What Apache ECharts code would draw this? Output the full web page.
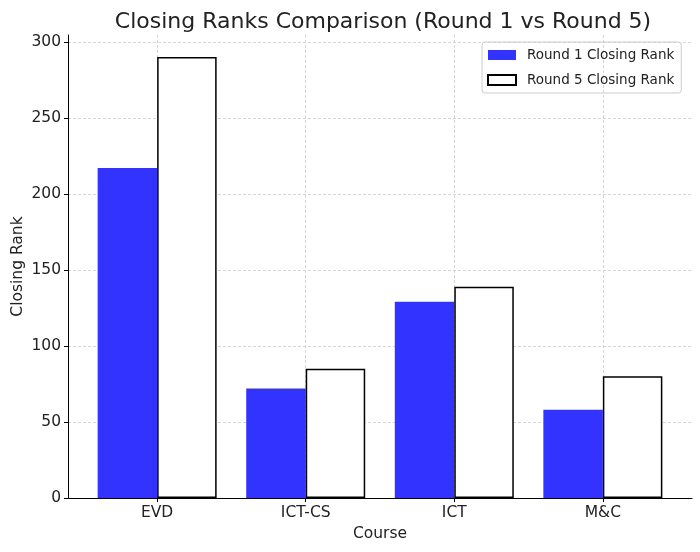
<!DOCTYPE html>
<html>
<head>
<meta charset="utf-8">
<script src="https://cdn.jsdelivr.net/npm/echarts@6/dist/echarts.min.js"></script>
<style>
  html, body { margin: 0; padding: 0; background: #fff; }
  #chart { width: 700px; height: 552px; }
</style>
</head>
<body>
<div id="chart"></div>
<script>
const courses = ['EVD', 'ICT-CS', 'ICT', 'M&C'];
const round1 = [217, 72, 129, 58];
const round5 = [290, 85, 139, 80];
const yTicks = [0, 50, 100, 150, 200, 250, 300];

const chart = echarts.init(document.getElementById('chart'));
const font = 'DejaVu Sans';
const catIdx = courses.map((c, i) => i);

const option = {
    animation: false,
    textStyle: { fontFamily: font },
    title: {
        text: 'Closing Ranks Comparison (Round 1 vs Round 5)',
        left: 378,
        textAlign: 'center',
        top: 6,
        textStyle: { fontSize: 22, fontWeight: 'normal', color: '#222', fontFamily: font }
    },
    legend: {
        orient: 'vertical',
        left: 482,
        top: 42,
        padding: [6, 7, 6, 5],
        itemWidth: 28,
        itemHeight: 10,
        itemGap: 11,
        icon: 'rect',
        borderColor: '#ccc',
        borderWidth: 1,
        borderRadius: 3,
        textStyle: { fontSize: 13.5, color: '#222', fontFamily: font, padding: [0, 0, 0, 6] },
        data: ['Round 1 Closing Rank', 'Round 5 Closing Rank']
    },
    grid: { left: 68, right: 8, top: 35, bottom: 54, outerBoundsMode: 'none', containLabel: false },
    xAxis: {
        type: 'value',
        min: -0.6,
        max: 3.6,
        name: 'Course',
        nameLocation: 'middle',
        nameGap: 28,
        nameTextStyle: { fontSize: 15.5, color: '#222', fontFamily: font },
        axisLine: { show: true, onZero: false, lineStyle: { color: '#000', width: 1 } },
        axisTick: { show: true, length: 4, customValues: catIdx, lineStyle: { color: '#000' } },
        axisLabel: {
            customValues: catIdx,
            fontSize: 15.5, color: '#222', margin: 7,
            formatter: v => courses[Math.round(v)]
        },
        splitLine: { show: true, lineStyle: { color: '#ccc', type: [3, 2], width: 0.8 } }
    },
    yAxis: {
        type: 'value',
        min: 0,
        max: 304.5,
        name: 'Closing Rank',
        nameLocation: 'middle',
        nameGap: 42,
        nameMoveOverlap: false,
        nameTextStyle: { fontSize: 15.5, color: '#222', fontFamily: font },
        axisLine: { show: true, onZero: false, lineStyle: { color: '#000', width: 1 } },
        axisTick: { show: true, length: 4, customValues: yTicks, lineStyle: { color: '#000' } },
        axisLabel: { customValues: yTicks, fontSize: 15.5, color: '#222', margin: 7 },
        splitLine: { show: true, lineStyle: { color: '#ccc', type: [3, 2], width: 0.8 } }
    },
    series: [
        {
            name: 'Round 1 Closing Rank',
            type: 'bar',
            barWidth: 59.5,
            barGap: '0%',
            itemStyle: { color: '#3333ff' },
            data: round1.map((v, i) => [i, v])
        },
        {
            name: 'Round 5 Closing Rank',
            type: 'bar',
            barWidth: 59.5,
            barGap: '0%',
            itemStyle: { color: '#ffffff', borderColor: '#000', borderWidth: 1.5 },
            data: round5.map((v, i) => [i, v])
        }
    ]
};
chart.setOption(option);
</script>
</body>
</html>
